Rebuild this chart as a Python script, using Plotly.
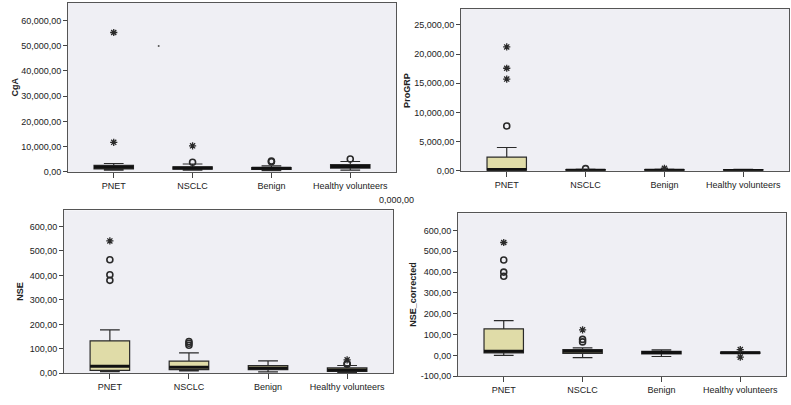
import plotly.graph_objects as go

categories = ["PNET", "NSCLC", "Benign", "Healthy volunteers"]

# ---- CgA ----
cga_lower = [700, 650, 500, 700]
cga_q1 = [1200, 1100, 1000, 1500]
cga_median = [1800, 1500, 1400, 2100]
cga_q3 = [2600, 2000, 1700, 2900]
cga_upper = [3300, 3100, 2400, 4100]
cga_circ_x = [1, 2, 2, 3]
cga_circ_y = [3800, 4300, 4000, 5100]
cga_star_x = [0, 0, 1]
cga_star_y = [55200, 11700, 10300]

# ---- ProGRP ----
pro_lower = [20, 10, 10, 10]
pro_q1 = [100, 40, 40, 30]
pro_median = [250, 90, 90, 80]
pro_q3 = [2360, 220, 230, 200]
pro_upper = [4000, 260, 280, 240]
pro_circ_x = [0, 1]
pro_circ_y = [7690, 390]
pro_star_x = [0, 0, 0, 2]
pro_star_y = [21240, 17580, 15730, 450]

# ---- NSE ----
nse_lower = [7, 10, 6, 3]
nse_q1 = [12, 15, 15, 8]
nse_median = [29, 25, 22, 14]
nse_q3 = [133, 50, 32, 22]
nse_upper = [178, 84, 51, 32]
nse_circ_x = [0, 0, 0, 1, 1, 1, 3, 3]
nse_circ_y = [464, 403, 380, 130, 123, 115, 40, 37]
nse_star_x = [0, 3]
nse_star_y = [541, 55]

# ---- NSE_corrected ----
nsc_lower = [0, -10, -5, 10]
nsc_q1 = [12, 10, 8, 10]
nsc_median = [20, 20, 14, 13]
nsc_q3 = [128, 28, 20, 16]
nsc_upper = [167, 36, 27, 16]
nsc_circ_x = [0, 0, 0, 1, 1]
nsc_circ_y = [458, 400, 380, 77, 65]
nsc_star_x = [0, 1, 3, 3]
nsc_star_y = [542, 123, 28, -8]

# stray dot in CgA panel
stray_x = [0.57]
stray_y = [49900]

# tick labels
cga_ticks = [0, 10000, 20000, 30000, 40000, 50000, 60000]
cga_ticktext = ["0,00", "10,000,00", "20,000,00", "30,000,00", "40,000,00", "50,000,00", "60,000,00"]
pro_ticks = [0, 5000, 10000, 15000, 20000, 25000]
pro_ticktext = ["0,00", "5,000,00", "10,000,00", "15,000,00", "20,000,00", "25,000,00"]
nse_ticks = [0, 100, 200, 300, 400, 500, 600]
nse_ticktext = ["0,00", "100,00", "200,00", "300,00", "400,00", "500,00", "600,00"]
nsc_ticks = [-100, 0, 100, 200, 300, 400, 500, 600]
nsc_ticktext = ["-100,00", "0,00", "100,00", "200,00", "300,00", "400,00", "500,00", "600,00"]

W, H = 791, 405
BG = "#efeff4"
FILL = "#e0dca8"
LINE = "#2a2a2a"
FONT = "Liberation Sans, Arial, sans-serif"

panels = [
    dict(name="CgA", lo=cga_lower, q1=cga_q1, med=cga_median, q3=cga_q3, up=cga_upper,
         cx=cga_circ_x, cy=cga_circ_y, sx=cga_star_x, sy=cga_star_y,
         ticks=cga_ticks, tt=cga_ticktext, yr=[0, 66900],
         px=(68, 396), py=(3, 174), tx=15),
    dict(name="ProGRP", lo=pro_lower, q1=pro_q1, med=pro_median, q3=pro_q3, up=pro_upper,
         cx=pro_circ_x, cy=pro_circ_y, sx=pro_star_x, sy=pro_star_y,
         ticks=pro_ticks, tt=pro_ticktext, yr=[0, 27750],
         px=(461, 789), py=(9, 173), tx=407),
    dict(name="NSE", lo=nse_lower, q1=nse_q1, med=nse_median, q3=nse_q3, up=nse_upper,
         cx=nse_circ_x, cy=nse_circ_y, sx=nse_star_x, sy=nse_star_y,
         ticks=nse_ticks, tt=nse_ticktext, yr=[0, 666],
         px=(64, 393), py=(213, 378), tx=20),
    dict(name="NSE_corrected", lo=nsc_lower, q1=nsc_q1, med=nsc_median, q3=nsc_q3, up=nsc_upper,
         cx=nsc_circ_x, cy=nsc_circ_y, sx=nsc_star_x, sy=nsc_star_y,
         ticks=nsc_ticks, tt=nsc_ticktext, yr=[-100, 682],
         px=(458, 786), py=(216, 381), tx=413),
]

fig = go.Figure()
layout = dict(width=W, height=H, margin=dict(l=0, r=0, t=0, b=0),
              paper_bgcolor="white", showlegend=False,
              font=dict(family=FONT, size=9, color="#222"))
annotations = []
idx = list(range(len(categories)))
BW = 0.5

for i, p in enumerate(panels):
    n = "" if i == 0 else str(i + 1)
    xa, ya = "x" + n, "y" + n
    fig.add_trace(go.Box(
        x=idx, q1=p["q1"], median=p["med"], q3=p["q3"],
        lowerfence=p["lo"], upperfence=p["up"],
        width=BW, whiskerwidth=0.5, boxpoints=False,
        fillcolor=FILL, line=dict(color=LINE, width=1.2),
        xaxis=xa, yaxis=ya, hoverinfo="skip"))
    # thick median lines
    mx, my = [], []
    for k in idx:
        mx += [k - BW / 2, k + BW / 2, None]
        my += [p["med"][k], p["med"][k], None]
    fig.add_trace(go.Scatter(x=mx, y=my, mode="lines",
                             line=dict(color="#111", width=3),
                             xaxis=xa, yaxis=ya, hoverinfo="skip"))
    fig.add_trace(go.Scatter(x=p["cx"], y=p["cy"], mode="markers",
                             marker=dict(symbol="circle-open", size=6,
                                         color=LINE, line=dict(width=1.6)),
                             xaxis=xa, yaxis=ya, hoverinfo="skip"))
    fig.add_trace(go.Scatter(x=p["sx"], y=p["sy"], mode="markers",
                             marker=dict(symbol="asterisk-open", size=6,
                                         color=LINE, line=dict(width=1.3, color=LINE)),
                             xaxis=xa, yaxis=ya, hoverinfo="skip"))
    x0, x1 = p["px"]
    y0, y1 = p["py"]
    layout["xaxis" + n] = dict(domain=[x0 / W, x1 / W], anchor=ya,
                               range=[-0.58, 3.58], tickvals=idx, ticktext=categories,
                               ticks="outside", ticklen=5, tickcolor="#444",
                               showline=True, linecolor="#555", linewidth=1, mirror=True,
                               showgrid=False, zeroline=False, fixedrange=True,
                               tickfont=dict(size=9, color="#222"))
    layout["yaxis" + n] = dict(domain=[1 - y1 / H, 1 - y0 / H], anchor=xa,
                               range=p["yr"], tickvals=p["ticks"], ticktext=p["tt"],
                               ticks="outside", ticklen=4, tickcolor="#444",
                               showline=True, linecolor="#555", linewidth=1, mirror=True,
                               showgrid=False, zeroline=False, fixedrange=True,
                               tickfont=dict(size=9, color="#222"))
    annotations.append(dict(text="<b>%s</b>" % p["name"], textangle=-90,
                            x=p["tx"] / W, y=1 - ((y0 + y1) / 2) / H,
                            xref="paper", yref="paper", showarrow=False,
                            xanchor="center", yanchor="middle",
                            font=dict(size=9, color="#222")))

# stray dot in CgA panel
fig.add_trace(go.Scatter(x=stray_x, y=stray_y, mode="markers",
                         marker=dict(size=2, color="#555"),
                         xaxis="x", yaxis="y", hoverinfo="skip"))

annotations.append(dict(text="0,000,00", x=396 / W, y=1 - 203 / H,
                        xref="paper", yref="paper", showarrow=False,
                        xanchor="center", yanchor="middle",
                        font=dict(size=9, color="#222")))

layout["annotations"] = annotations
layout["plot_bgcolor"] = BG
fig.update_layout(**layout)
fig.write_html("out.html", config={"displayModeBar": False},
               post_script="document.body.style.margin='0';document.body.style.overflow='hidden';")
